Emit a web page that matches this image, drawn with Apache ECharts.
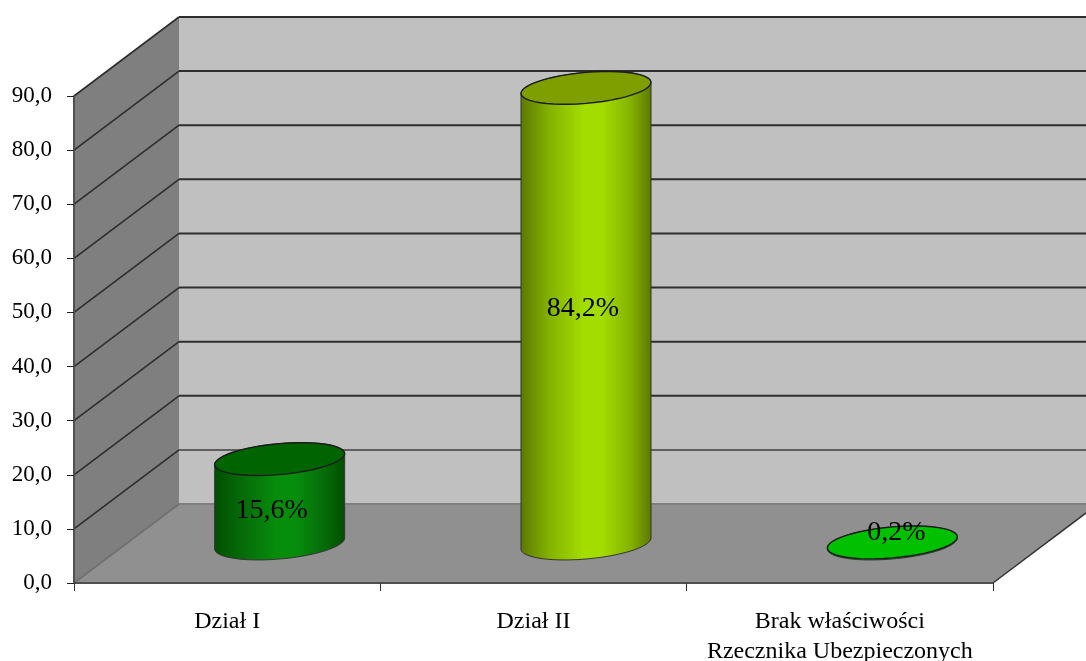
<!DOCTYPE html>
<html><head><meta charset="utf-8">
<style>html,body{margin:0;padding:0;background:#fff}#c{width:1086px;height:661px}</style>
<script src="https://cdn.jsdelivr.net/npm/echarts@6/dist/echarts.min.js"></script>
</head><body><div id="c"></div>
<script>
var categories = ['Dział I', 'Dział II', 'Brak właściwości\nRzecznika Ubezpieczonych'];
var values = [15.6, 84.2, 0.2];
var yTicks = [0, 10, 20, 30, 40, 50, 60, 70, 80, 90];
var sideColors = [['#004f00', '#066c09', '#078d0c'], ['#5c7800', '#84b200', '#a3dd00'], ['#00c000', '#00c000', '#00c000']];
var topColors = ['#006400', '#7f9e00', '#00c000'];
var labelNudge = [[-8, 9], [-3, -7], [4, -10]];

var DX = 105, DY = -79;
var FONT = '"Liberation Serif","Times New Roman",serif';

function fmtComma(v, d) { return v.toFixed(d).replace('.', ','); }

function renderWalls(params, api) {
  var cs = params.coordSys;
  var y0 = api.coord([0, 0])[1], yT = api.coord([0, 90])[1];
  var xL = cs.x, xR = cs.x + cs.width;
  var kids = [
    { type: 'polygon', shape: { points: [[xL + DX, yT + DY], [xR + DX, yT + DY], [xR + DX, y0 + DY], [xL + DX, y0 + DY]] }, style: { fill: '#c0c0c0' } },
    { type: 'polygon', shape: { points: [[xL, yT], [xL + DX, yT + DY], [xL + DX, y0 + DY], [xL, y0]] }, style: { fill: '#7f7f7f' } },
    { type: 'polygon', shape: { points: [[xL, y0], [xR, y0], [xR + DX, y0 + DY], [xL + DX, y0 + DY]] }, style: { fill: '#909090' } },
    { type: 'line', shape: { x1: xR, y1: y0, x2: xR + DX, y2: y0 + DY }, style: { stroke: '#333', lineWidth: 1.5 } }
  ];
  return { type: 'group', children: kids };
}

function renderGridLine(params, api) {
  var v = api.value(0), cs = params.coordSys;
  var y = api.coord([0, v])[1], xL = cs.x, xR = cs.x + cs.width;
  var dim = v === 0;
  var mid = v === 10;
  return { type: 'group', children: [
    { type: 'polyline', shape: { points: [[xL, y], [xL + DX, y + DY]] },
      style: { fill: 'none', stroke: dim ? '#6f6f6f' : '#2e2e2e', lineWidth: 1.6 } },
    { type: 'line', shape: { x1: xL + DX, y1: y + DY, x2: xR + DX, y2: y + DY },
      style: { stroke: dim ? '#808080' : (mid ? '#5f5f5f' : '#2e2e2e'), lineWidth: 2 } }
  ]};
}

function ellipsePts(cx, cy, a, s, b, from, to) {
  var pts = [], n = 48;
  for (var k = 0; k <= n; k++) {
    var t = from + (to - from) * k / n;
    pts.push([cx + a * Math.cos(t), cy - s * Math.cos(t) + b * Math.sin(t)]);
  }
  return pts;
}

function renderCylinder(params, api) {
  var i = api.value(0), v = api.value(1);
  var base = api.coord([i, 0]), top = api.coord([i, v]);
  var cx = base[0] + DX / 2, by = base[1] + DY / 2, ty = top[1] + DY / 2;
  var a = 65, s = 5.5, b = 15.5;
  var body = ellipsePts(cx, by, a, s, b, 0, Math.PI).concat(ellipsePts(cx, ty, a, s, b, Math.PI, 2 * Math.PI));
  var c = sideColors[i];
  var grad = { type: 'linear', x: 0, y: 0, x2: 1, y2: 0, colorStops: [
    { offset: 0, color: c[0] }, { offset: 0.22, color: c[1] }, { offset: 0.48, color: c[2] },
    { offset: 0.62, color: c[2] }, { offset: 0.84, color: c[1] }, { offset: 1, color: c[0] }] };
  var n = labelNudge[i];
  return { type: 'group', children: [
    { type: 'polygon', shape: { points: body }, style: { fill: grad, stroke: '#333', lineWidth: 1 } },
    { type: 'polygon', shape: { points: ellipsePts(cx, ty, a, s, b, 0, 2 * Math.PI) }, style: { fill: topColors[i], stroke: '#1c1c1c', lineWidth: 1.4 } },
    { type: 'text', x: cx + n[0], y: (by + ty) / 2 + n[1], style: { text: fmtComma(v, 1) + '%', font: '28px ' + FONT, fill: '#000', align: 'center', verticalAlign: 'middle' } }
  ]};
}

var chart = echarts.init(document.getElementById('c'), null, { renderer: 'canvas' });
chart.setOption({
  animation: false,
  backgroundColor: '#fff',
  grid: { left: 74, right: 93, top: 96, bottom: 78, containLabel: false, outerBoundsMode: 'none' },
  xAxis: {
    type: 'category', data: categories, z: 5,
    axisLine: { show: true, lineStyle: { color: '#505050', width: 2 } },
    axisTick: { show: true, length: 8, interval: 0, lineStyle: { color: '#333', width: 1 } },
    axisLabel: { interval: 0, margin: 24, fontFamily: 'Liberation Serif', fontSize: 24, lineHeight: 30, color: '#000' }
  },
  yAxis: {
    type: 'value', min: 0, max: 90, interval: 10, z: 5,
    splitLine: { show: false },
    axisLine: { show: true, lineStyle: { color: '#505050', width: 2 } },
    axisTick: { show: true, length: 7, lineStyle: { color: '#222', width: 1 } },
    axisLabel: { margin: 22, fontFamily: 'Liberation Serif', fontSize: 23, color: '#000', formatter: function (v) { return fmtComma(v, 1); } }
  },
  series: [
    { type: 'custom', silent: true, z: 1, coordinateSystem: 'cartesian2d', data: [[0, 0]], renderItem: renderWalls },
    { type: 'custom', silent: true, z: 2, coordinateSystem: 'cartesian2d', data: yTicks.map(function (t) { return [t]; }), encode: { y: 0 }, renderItem: renderGridLine },
    { type: 'custom', silent: true, z: 3, coordinateSystem: 'cartesian2d', data: values.map(function (v, i) { return [i, v]; }), encode: { x: 0, y: 1 }, renderItem: renderCylinder }
  ]
});
</script></body></html>
